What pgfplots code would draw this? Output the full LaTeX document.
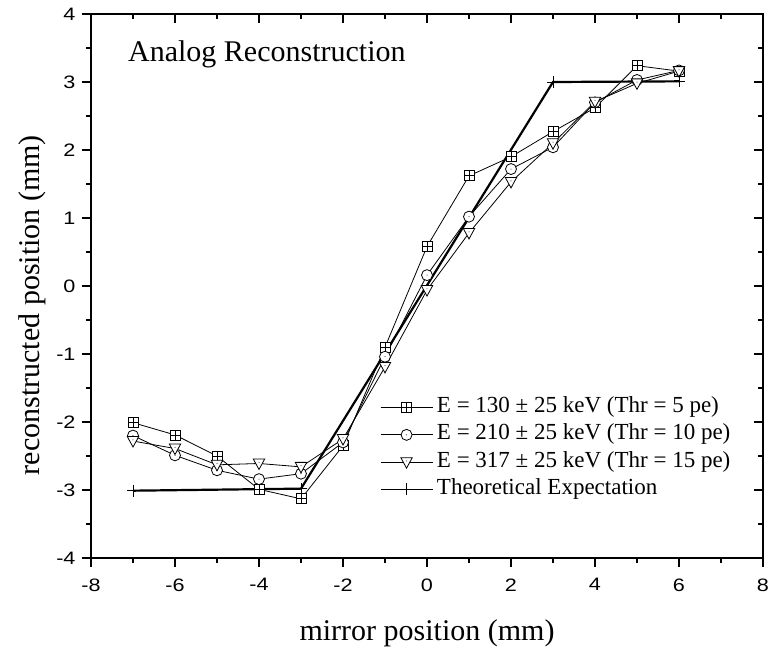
\documentclass[border=0pt]{standalone}
\usepackage{pgfplots}
\pgfplotsset{compat=1.18}
\usepackage{fontspec}
\setmainfont{Liberation Serif}
\newfontfamily\arial[FakeStretch=1.2]{Liberation Sans}

\pgfdeclareplotmark{sqplus}{%
  \pgfpathrectangle{\pgfqpoint{-\pgfplotmarksize}{-\pgfplotmarksize}}{\pgfqpoint{2\pgfplotmarksize}{2\pgfplotmarksize}}%
  \pgfusepathqfillstroke
  \pgfpathmoveto{\pgfqpoint{-\pgfplotmarksize}{0pt}}\pgfpathlineto{\pgfqpoint{\pgfplotmarksize}{0pt}}%
  \pgfpathmoveto{\pgfqpoint{0pt}{-\pgfplotmarksize}}\pgfpathlineto{\pgfqpoint{0pt}{\pgfplotmarksize}}%
  \pgfusepathqstroke}
\pgfdeclareplotmark{circdot}{%
  \pgfpathcircle{\pgfpointorigin}{\pgfplotmarksize}\pgfusepathqfillstroke
  \pgfscope\pgfsetfillcolor{black}\pgfpathcircle{\pgfpointorigin}{0.5pt}\pgfusepathqfill\endpgfscope}
\pgfdeclareplotmark{tridot}{%
  \pgfpathmoveto{\pgfqpoint{0pt}{-\pgfplotmarksize}}%
  \pgfpathlineto{\pgfqpoint{0.95\pgfplotmarksize}{0.75\pgfplotmarksize}}%
  \pgfpathlineto{\pgfqpoint{-0.95\pgfplotmarksize}{0.75\pgfplotmarksize}}%
  \pgfpathclose\pgfusepathqfillstroke
  \pgfscope\pgfsetfillcolor{black}\pgfpathcircle{\pgfqpoint{0pt}{0.2\pgfplotmarksize}}{0.5pt}\pgfusepathqfill\endpgfscope}

\begin{document}
\begin{tikzpicture}[x=1pt,y=1pt]
\pgfplotsset{
  common/.style={
    scale only axis, width=672pt, height=544pt,
    at={(91pt,91pt)}, anchor=south west,
    xmin=-8, xmax=8, ymin=-4, ymax=4,
    xtick={-8,-6,...,8}, ytick={-4,-3,...,4},
    minor x tick num=1, minor y tick num=1,
    major tick length=9pt, minor tick length=5pt,
    tick style={black, line width=1.5pt},
  },
  ser/.style={black, line width=0.8pt, mark options={fill=white, line width=0.8pt, solid}},
}
% ticks on top/right pointing inward
\begin{axis}[common, xtick pos=right, ytick pos=right, tick align=inside,
  axis line style={draw=none}, xticklabels={}, yticklabels={}]
\end{axis}
\begin{axis}[common, xtick pos=left, ytick pos=left, tick align=outside,
  axis line style={line width=1.8pt},
  xticklabels={-8,-6,-4,-2,0,2,4,6,8},
  yticklabels={-4,-3,-2,-1,0,1,2,3,4},
  tick label style={font=\arial\fontsize{18}{21}\selectfont},
  xticklabel style={font=\arial\fontsize{18}{21}\selectfont, yshift=-8pt},
  yticklabel style={font=\arial\fontsize{18}{21}\selectfont, xshift=-3pt},
  xlabel={mirror position (mm)},
  ylabel={reconstructed position (mm)},
  label style={font=\fontsize{30}{36}\selectfont},
  xlabel style={at={(axis description cs:0.5,0)}, anchor=base, yshift=-82pt},
  ylabel style={at={(axis description cs:-0.0759,0.465)}, anchor=base},
  legend style={draw=none, fill=none, at={(rel axis cs:0.43,0.302)}, anchor=north west,
    inner sep=0pt, row sep=0pt, column sep=0pt,
    font=\fontsize{23}{27}\selectfont,
    nodes={inner sep=2pt, text height=16.5pt, text depth=6.8pt}},
  legend cell align=left,
  legend image code/.code={\draw[mark repeat=2, mark phase=2, #1] plot coordinates {(0pt,0pt) (26pt,0pt) (52pt,0pt)};},
]
\addplot[ser, mark=sqplus, mark size=5pt] coordinates {
(-7,-2.01) (-6,-2.19) (-5,-2.50) (-4,-2.99) (-3,-3.13) (-2,-2.35) (-1,-0.90)
(0,0.58) (1,1.62) (2,1.90) (3,2.27) (4,2.62) (5,3.24) (6,3.16)};
\addlegendentry{\hspace{2pt}E = 130 ± 25 keV (Thr = 5 pe)}
\addplot[ser, mark=circdot, mark size=5.5pt] coordinates {
(-7,-2.20) (-6,-2.49) (-5,-2.71) (-4,-2.84) (-3,-2.76) (-2,-2.30) (-1,-1.04)
(0,0.16) (1,1.02) (2,1.72) (3,2.04) (4,2.70) (5,3.03) (6,3.17)};
\addlegendentry{\hspace{2pt}E = 210 ± 25 keV (Thr = 10 pe)}
\addplot[ser, mark=tridot, mark size=6pt] coordinates {
(-7,-2.28) (-6,-2.39) (-5,-2.63) (-4,-2.61) (-3,-2.66) (-2,-2.25) (-1,-1.19)
(0,-0.06) (1,0.78) (2,1.53) (3,2.10) (4,2.71) (5,2.98) (6,3.16)};
\addlegendentry{\hspace{2pt}E = 317 ± 25 keV (Thr = 15 pe)}
\addplot[black, line width=2.2pt, mark=+, mark size=6pt, mark options={line width=0.9pt},
  legend image code/.code={\draw[black, line width=0.8pt, mark=+, mark size=6pt, mark repeat=2, mark phase=2] plot coordinates {(0pt,0pt) (26pt,0pt) (52pt,0pt)};}] coordinates {
(-7,-3.01) (-3,-2.98) (3,3.00) (6,3.01)};
\addlegendentry{\hspace{2pt}Theoretical Expectation}
\node[anchor=base west, inner sep=0pt, font=\fontsize{30}{36}\selectfont] at (rel axis cs:0.055,0.912) {Analog Reconstruction};
\end{axis}
\pgfresetboundingbox
\useasboundingbox (0,0) rectangle (769pt,649pt);
\end{tikzpicture}
\end{document}
